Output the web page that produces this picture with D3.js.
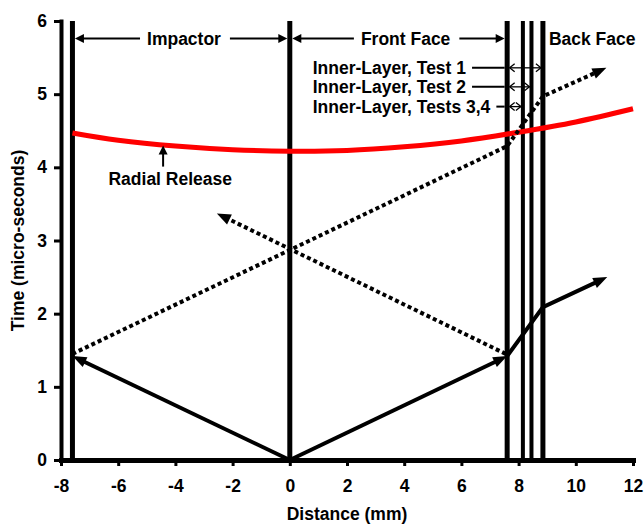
<!DOCTYPE html>
<html lang="en">

<head>
  <meta charset="UTF-8">
  <title>Impact wave diagram - Distance vs Time</title>
  <script src="https://d3js.org/d3.v7.min.js"></script>
  <style>
    body { margin: 0; background: #fff; }
    text { font-family: "Liberation Sans", Arial, sans-serif; font-weight: bold; font-size: 17.5px; fill: #000; }
  </style>
</head>

<body>
  <div id="chart"></div>

  <script>
    // tick values
    const xTicks = [-8, -6, -4, -2, 0, 2, 4, 6, 8, 10, 12];
    const yTicks = [0, 1, 2, 3, 4, 5, 6];

    // interfaces (mm): impactor back, impact plane, target layers
    const interfaceX = [-7.6, 0, 7.6, 8.15, 8.45, 8.85];

    // radial release front
    const releaseX = [-7.6, -6, -4, -2, 0, 2, 4, 6, 8, 10, 12];
    const releaseT = [4.47, 4.37, 4.29, 4.24, 4.22, 4.23, 4.28, 4.36, 4.48, 4.62, 4.80];

    // shock waves (solid)
    const shockImpactor = [[0, 0], [-7.6, 1.42]];
    const shockTarget = [[0, 0], [7.6, 1.42]];
    const shockTransmit = [[7.6, 1.42], [8.85, 2.09], [11.1, 2.5]];

    // rarefaction waves (dotted)
    const rarefactionImpactor = [[-7.6, 1.45], [0, 2.87], [7.6, 4.29], [8.85, 4.97], [11.07, 5.36]];
    const rarefactionTarget = [[7.55, 1.45], [-2.55, 3.37]];

    // span annotations
    const spanLabels = ["Impactor", "Front Face"];
    const spanFrom = [-7.6, 0];
    const spanTo = [0, 7.6];
    const spanTextX = [-3.7, 4.05];
    const spanT = 5.76;
    const backFaceLabel = "Back Face";

    const layerLabels = ["Inner-Layer, Test 1", "Inner-Layer, Test 2", "Inner-Layer, Tests 3,4"];
    const layerTo = [8.85, 8.45, 8.15];
    const layerT = [5.36, 5.1, 4.83];
    const layerTextX = 0.8;

    const releaseLabel = "Radial Release";
    const releaseLabelX = -4.18, releaseLabelT = 3.84;
    const releaseArrowX = -4.43, releaseArrowT = [4.01, 4.3];

    const margin = { top: 21, right: 11, bottom: 67, left: 61 },
      width = 644 - margin.left - margin.right,
      height = 527 - margin.top - margin.bottom;

    const svg = d3.select("#chart")
      .append("svg")
      .attr("width", width + margin.left + margin.right)
      .attr("height", height + margin.top + margin.bottom)
      .append("g")
      .attr("transform", `translate(${margin.left},${margin.top})`);

    const x = d3.scaleLinear().domain([-8, 12]).range([0, width]);
    const y = d3.scaleLinear().domain([0, 6]).range([height, 0]);

    // axes (plain hyphen minus, no decimals)
    const fmt = d => String(d);

    const xAxis = svg.append("g")
      .attr("transform", `translate(0,${height})`)
      .call(d3.axisBottom(x).tickValues(xTicks).tickFormat(fmt).tickSize(6).tickSizeOuter(0).tickPadding(14));
    xAxis.select(".domain").attr("stroke-width", 5).attr("stroke-linecap", "square");
    xAxis.selectAll(".tick line").attr("stroke-width", 3);

    const yAxis = svg.append("g")
      .call(d3.axisLeft(y).tickValues(yTicks).tickFormat(fmt).tickSize(7).tickSizeOuter(0).tickPadding(7));
    yAxis.select(".domain").attr("stroke-width", 4).attr("stroke-linecap", "square");
    yAxis.selectAll(".tick line").attr("stroke-width", 3);

    // axis titles
    svg.append("text")
      .attr("text-anchor", "middle")
      .attr("x", width / 2)
      .attr("y", height + 60)
      .text("Distance (mm)");

    svg.append("text")
      .attr("text-anchor", "middle")
      .attr("transform", `translate(${24 - margin.left},${height / 2}) rotate(-90)`)
      .text("Time (micro-seconds)");

    // interface lines
    svg.selectAll("line.iface")
      .data(interfaceX)
      .enter()
      .append("line")
      .attr("class", "iface")
      .attr("x1", d => x(d)).attr("x2", d => x(d))
      .attr("y1", y(0)).attr("y2", y(6))
      .attr("stroke", "#000")
      .attr("stroke-width", (d, i) => (i === 3 || i === 4) ? 4 : 5);

    // radial release curve
    svg.append("path")
      .datum(releaseX.map((d, i) => [d, releaseT[i]]))
      .attr("fill", "none")
      .attr("stroke", "#ff0000")
      .attr("stroke-width", 5)
      .attr("d", d3.line().x(d => x(d[0])).y(d => y(d[1])).curve(d3.curveNatural));

    // arrow head helper (pixel coords)
    function arrowHead(from, tip, len, wid, open) {
      const dx = tip[0] - from[0], dy = tip[1] - from[1], L = Math.hypot(dx, dy);
      const ux = dx / L, uy = dy / L;
      const bx = tip[0] - ux * len, by = tip[1] - uy * len;
      const p1 = [bx - uy * wid / 2, by + ux * wid / 2];
      const p2 = [bx + uy * wid / 2, by - ux * wid / 2];
      if (open) {
        svg.append("polyline").attr("points", [p1, tip, p2].join(" "))
          .attr("fill", "none").attr("stroke", "#000").attr("stroke-width", 1.3);
      } else {
        svg.append("polygon").attr("points", [p1, tip, p2].join(" ")).attr("fill", "#000");
      }
    }

    // line with the last point pulled back into the head
    function arrowLine(px, strokeW, dash, headLen, headWid) {
      const n = px.length, tip = px[n - 1], prev = px[n - 2];
      const L = Math.hypot(tip[0] - prev[0], tip[1] - prev[1]);
      const back = headLen * 0.6;
      const end = [tip[0] - (tip[0] - prev[0]) / L * back, tip[1] - (tip[1] - prev[1]) / L * back];
      svg.append("path")
        .attr("d", d3.line()(px.slice(0, n - 1).concat([end])))
        .attr("fill", "none")
        .attr("stroke", "#000")
        .attr("stroke-width", strokeW)
        .attr("stroke-dasharray", dash);
      arrowHead(prev, tip, headLen, headWid);
    }

    const toPx = pts => pts.map(d => [x(d[0]), y(d[1])]);

    [shockImpactor, shockTarget, shockTransmit].forEach(w => arrowLine(toPx(w), 4, null, 14, 11));
    [rarefactionImpactor, rarefactionTarget].forEach(w => arrowLine(toPx(w), 4, "4,3", 14, 11));

    // Impactor / Front Face span arrows
    spanLabels.forEach((lab, i) => {
      const yy = y(spanT);
      const t = svg.append("text")
        .attr("x", x(spanTextX[i]))
        .attr("y", yy)
        .attr("dy", "0.35em")
        .attr("text-anchor", "middle")
        .text(lab);
      const half = t.node().getComputedTextLength() / 2;
      const left = x(spanFrom[i]) + 2.5, right = x(spanTo[i]) - 2.5;
      arrowLine([[x(spanTextX[i]) - half - 7, yy], [left, yy]], 2, null, 9, 9);
      arrowLine([[x(spanTextX[i]) + half + 9, yy], [right, yy]], 2, null, 9, 9);
    });

    svg.append("text")
      .attr("x", x(8.85) + 6)
      .attr("y", y(spanT))
      .attr("dy", "0.35em")
      .text(backFaceLabel);

    // inner-layer annotations
    layerLabels.forEach((lab, i) => {
      const yy = y(layerT[i]);
      const t = svg.append("text")
        .attr("x", x(layerTextX))
        .attr("y", yy)
        .attr("dy", "0.35em")
        .text(lab);
      const endX = x(layerTextX) + t.node().getComputedTextLength();
      svg.append("line")
        .attr("x1", endX + 6).attr("x2", x(7.6) - 2.5)
        .attr("y1", yy).attr("y2", yy)
        .attr("stroke", "#000").attr("stroke-width", 2);
      const a = x(7.6) + 2.5, b = x(layerTo[i]) - 2;
      svg.append("line")
        .attr("x1", a).attr("x2", b)
        .attr("y1", yy).attr("y2", yy)
        .attr("stroke", "#000").attr("stroke-width", 1.3);
      arrowHead([b, yy], [a, yy], 5, 8, true);
      arrowHead([a, yy], [b, yy], 5, 8, true);
    });

    // radial release label
    svg.append("text")
      .attr("x", x(releaseLabelX))
      .attr("y", y(releaseLabelT))
      .attr("dy", "0.35em")
      .attr("text-anchor", "middle")
      .text(releaseLabel);
    arrowLine([[x(releaseArrowX), y(releaseArrowT[0])], [x(releaseArrowX), y(releaseArrowT[1])]], 2, null, 9, 9);
  </script>
</body>

</html>
